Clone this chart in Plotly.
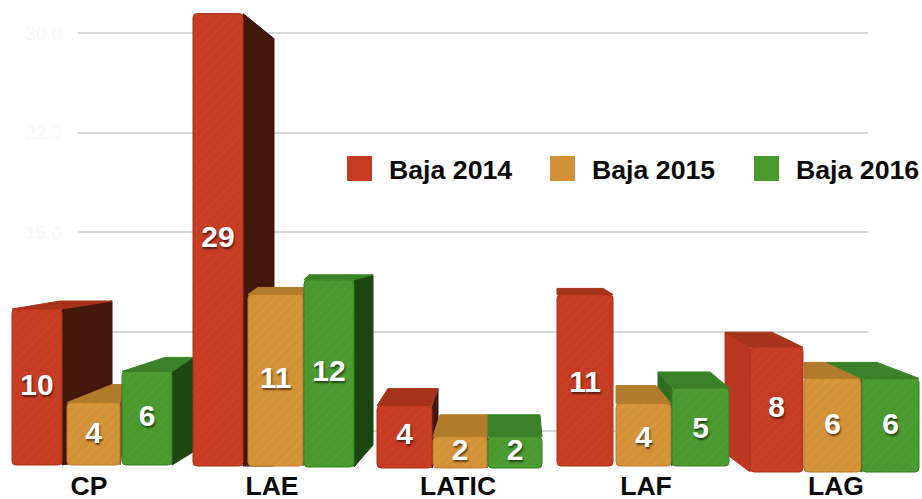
import plotly.graph_objects as go

# ---- chart values ----
categories = ["CP", "LAE", "LATIC", "LAF", "LAG"]
baja_2014 = [10, 29, 4, 11, 8]
baja_2015 = [4, 11, 2, 4, 6]
baja_2016 = [6, 12, 2, 5, 6]
series_names = ["Baja 2014", "Baja 2015", "Baja 2016"]
axis_ticks = [0, 7.5, 15, 22.5, 30]

# ---- layout of the faux-3D blocks (left, right, floor, back-left shift, back-right shift, rise, floor rise) ----
PX_PER_UNIT = 15.6
FLOOR_REF = 465
blocks = [
    [(12, 62, 465, 48, 50, 8, 8), (193, 243, 466, 0, 31, -25, 0), (377, 432, 468, 11, 6, 17, 17),
     (557, 613, 466, 0, -10, 6, 6), (750, 803, 472, -25, -31, 15, 19)],
    [(67, 120, 465, 45, 3, 18, 18), (248, 303, 466, 10, 1, 7, 7), (433, 487, 468, 7, 1, 22, 22),
     (616, 671, 466, 0, -15, 18, 18), (804, 861, 472, 0, -34, 16, 16)],
    [(122, 172, 465, 43, 21, 14, 13), (304, 354, 467, 5, 19, 5, 22), (488, 542, 468, 0, -2, 22, 22),
     (672, 729, 466, -14, -19, 16, 16), (862, 919, 472, -35, -42, 16, 16)],
]
label_shift = [[0, 0, 0, 4, 0], [2, 0, 0, 5, 1], [0, 0, 0, 3, 1]]
tick_positions = [89, 272, 458, 646, 836]
front_colors = ["#c63c22", "#d49238", "#4a9a30"]
top_colors = ["#a5341b", "#b27a2b", "#3a8227"]
side_colors = ["#43180c", "#7d5219", "#1d4611"]
left_colors = ["#bb3820", "#b27a2b", "#2f6e20"]
line_colors = ["#a83018", "#b87a28", "#377d24"]
pattern_colors = ["#e2623f", "#f0c070", "#74bd55"]
values_by_series = [baja_2014, baja_2015, baja_2016]

fig = go.Figure()

# grid axis subplot (x / y)
fig.add_trace(go.Scatter(x=[0, 1], y=axis_ticks[:2], mode="lines", line=dict(width=0),
                         xaxis="x", yaxis="y", showlegend=False, hoverinfo="skip", opacity=0))

left_faces, other_faces, legend_shapes = [], [], []
def poly(target, pts, color):
    path = "M " + " L ".join(f"{x},{y}" for x, y in pts) + " Z"
    target.append(dict(type="path", path=path, xref="x2", yref="y2", layer="below",
                       fillcolor=color, line=dict(color=color, width=1)))

label_traces = []
for s, (name, values) in enumerate(zip(series_names, values_by_series)):
    geo = blocks[s]
    xs, widths, bases, mids = [], [], [], []
    for i, (v, (L, R, F, dxl, dxr, dy, dyb)) in enumerate(zip(values, geo)):
        base = (FLOOR_REF - F) / PX_PER_UNIT
        top = base + v
        back = top + dy / PX_PER_UNIT
        low = base + dyb / PX_PER_UNIT
        xs.append((L + R) / 2)
        widths.append(R - L)
        bases.append(base)
        mids.append(base + v / 2 - label_shift[s][i] / PX_PER_UNIT)
        if dxl < 0:
            poly(left_faces, [(L, top), (L + dxl, back), (L + dxl, low), (L, base)], left_colors[s])
        if dxr > 0:
            poly(other_faces, [(R, top), (R + dxr, back), (R + dxr, low), (R, base)], side_colors[s])
        if dy > 0:
            poly(other_faces, [(L, top), (R, top), (R + dxr, back), (L + dxl, back)], top_colors[s])
    fig.add_trace(go.Bar(
        x=xs, y=values, base=bases, width=widths, name=name,
        xaxis="x2", yaxis="y2", cliponaxis=False,
        marker=dict(color=front_colors[s], cornerradius=4,
                    line=dict(color=line_colors[s], width=1),
                    pattern=dict(shape="/", fgcolor=pattern_colors[s], bgcolor=front_colors[s],
                                 fgopacity=0.28, size=7, solidity=0.12, fillmode="replace")),
        showlegend=False,
    ))
    label_traces.append(go.Scatter(
        x=xs, y=mids, text=[str(v) for v in values], mode="text", textposition="middle center",
        xaxis="x2", yaxis="y2", cliponaxis=False, showlegend=False, hoverinfo="skip",
        textfont=dict(family="Liberation Sans", size=30, color="white", weight="bold",
                      shadow="1px 2px 2px rgba(0,0,0,0.55)"),
    ))
fig.add_traces(label_traces)

# legend row
legend_x = [(347, 372, 387), (550, 575, 590), (754, 779, 794)]
annotations = []
for s, (a, b, t) in enumerate(legend_x):
    legend_shapes.append(dict(type="rect", xref="x2", yref="paper", x0=a, x1=b,
                              y0=1 - 181 / 499, y1=1 - 156 / 499, fillcolor=front_colors[s], line=dict(width=0)))
    annotations.append(dict(text=f"<b>{series_names[s]}</b>", xref="x2", yref="paper", x=t,
                            y=1 - 170 / 499, xanchor="left", yanchor="middle", showarrow=False,
                            font=dict(family="Liberation Sans", size=26.7, color="#0a0a0a")))

bottom = 25 / 499
fig.update_layout(
    template="none",
    width=922, height=499, margin=dict(l=0, r=0, t=0, b=0),
    paper_bgcolor="white", plot_bgcolor="rgba(0,0,0,0)", showlegend=False,
    shapes=left_faces + other_faces + legend_shapes, annotations=annotations, barmode="overlay",
    xaxis=dict(domain=[78 / 922, 868 / 922], range=[0, 1], visible=False, anchor="y", automargin=False),
    yaxis=dict(domain=[bottom, 1], range=[-3.24, 32.49], anchor="x", tickvals=axis_ticks,
               tickformat=".1f", showgrid=True, gridcolor="#d8d8d8", gridwidth=2, zeroline=False,
               showline=False, ticks="outside", ticklen=11, tickcolor="rgba(0,0,0,0)", automargin=False,
               tickfont=dict(family="Liberation Sans", size=19, color="#f8f8f8")),
    xaxis2=dict(domain=[0, 1], range=[0, 922], anchor="y2", tickvals=tick_positions,
                ticktext=[f"<b>{c}</b>" for c in categories], automargin=False,
                showgrid=False, zeroline=False, showline=False, ticks="", ticklabelstandoff=-7,
                tickfont=dict(family="Liberation Sans", size=26.5, color="#0a0a0a")),
    yaxis2=dict(domain=[bottom, 1], range=[-9 / PX_PER_UNIT, FLOOR_REF / PX_PER_UNIT], anchor="x2",
                visible=False, showgrid=False, zeroline=False, automargin=False),
)

fig.write_html("out.html", config=dict(displayModeBar=False),
               post_script="document.body.style.margin='0';document.body.style.overflow='hidden';")
